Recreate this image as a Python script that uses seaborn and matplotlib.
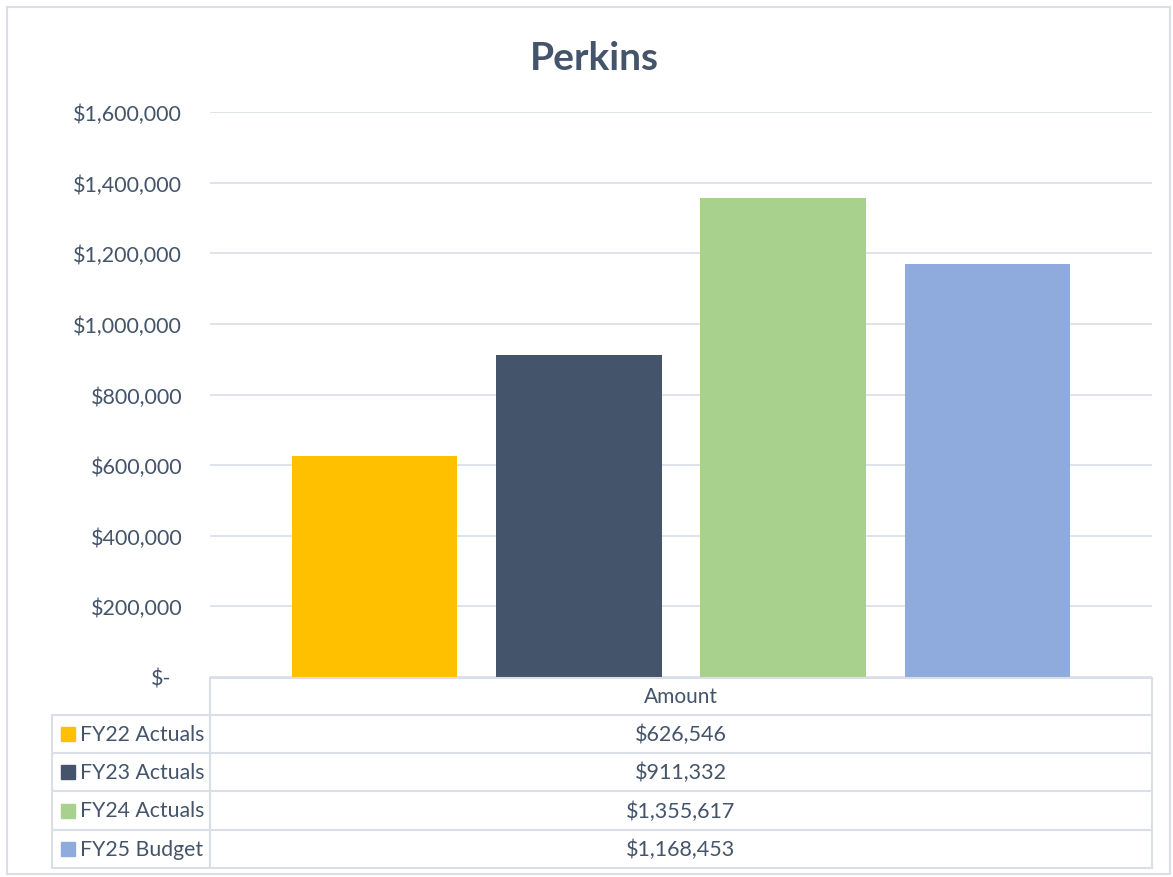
import matplotlib
matplotlib.use('Agg')
import matplotlib.pyplot as plt
import seaborn as sns
from matplotlib.patches import Rectangle
from matplotlib.ticker import FuncFormatter

# data
labels = ['FY22 Actuals', 'FY23 Actuals', 'FY24 Actuals', 'FY25 Budget']
amounts = [626546, 911332, 1355617, 1168453]
colors = ['#FFC000', '#44546A', '#A9D18E', '#8FAADC']
yticks = [0, 200000, 400000, 600000, 800000, 1000000, 1200000, 1400000, 1600000]

txt = '#44546A'
line_col = '#D9DEE7'

sns.set_style('white')
plt.rcParams['font.family'] = ['Lato', 'DejaVu Sans']

fig = plt.figure(figsize=(11.73, 8.78), dpi=100)
ax = fig.add_axes([210/1173, 1 - 678/878, 942/1173, 565/878])

sns.barplot(x=labels, y=amounts, hue=labels, palette=colors, saturation=1,
            width=0.81, legend=False, linewidth=0, ax=ax)

ax.set_xlim(-0.804, 3.804)
ax.set_ylim(0, 1600000)
ax.set_yticks(yticks)
ax.yaxis.set_major_formatter(FuncFormatter(lambda v, p: '$-' if v == 0 else '${:,.0f}'.format(v)))
ax.tick_params(axis='y', length=0, pad=20, labelsize=15.5, labelcolor=txt)
ax.yaxis.get_major_ticks()[0].set_pad(28)
ax.set_xticks([])
ax.set_xlabel('')
ax.set_ylabel('')
ax.grid(axis='y', color=line_col, linewidth=1.2)
ax.set_axisbelow(True)
for s in ax.spines.values():
    s.set_visible(False)

fig.text(594/1173, 1 - 58/878, 'Perkins', ha='center', va='center',
         fontsize=28, fontweight='bold', color=txt)

# data table below the plot
rows_px = [679, 716, 754, 792, 831, 869]
ya = [(678 - r) / 565 for r in rows_px]
x_lab = (52 - 210) / 942
kw = dict(transform=ax.transAxes, clip_on=False, color=line_col, linewidth=1.5)

ax.plot([0, 1], [ya[0], ya[0]], **kw)
for y in ya[1:]:
    ax.plot([x_lab, 1], [y, y], **kw)
ax.plot([0, 0], [ya[0], ya[-1]], **kw)
ax.plot([1, 1], [ya[0], ya[-1]], **kw)
ax.plot([x_lab, x_lab], [ya[1], ya[-1]], **kw)

ax.text(0.5, (ya[0] + ya[1]) / 2, 'Amount', transform=ax.transAxes, ha='center',
        va='center', fontsize=15, color=txt)
for i, (lab, val, c) in enumerate(zip(labels, amounts, colors)):
    yc = (ya[i + 1] + ya[i + 2]) / 2
    ax.add_patch(Rectangle((x_lab + 9/942, yc - 7/565), 14/942, 14/565,
                           transform=ax.transAxes, clip_on=False, color=c))
    ax.text(x_lab + 28/942, yc, lab, transform=ax.transAxes, ha='left',
            va='center', fontsize=15.3, color=txt)
    ax.text(0.5, yc, '${:,.0f}'.format(val), transform=ax.transAxes,
            ha='center', va='center', fontsize=15.5, color=txt)

# chart border
fig.add_artist(Rectangle((7/1173, 3/878), 1163/1173, 867/878, transform=fig.transFigure,
                         fill=False, edgecolor=line_col, linewidth=1.5))

fig.savefig('out.png', dpi=100)
